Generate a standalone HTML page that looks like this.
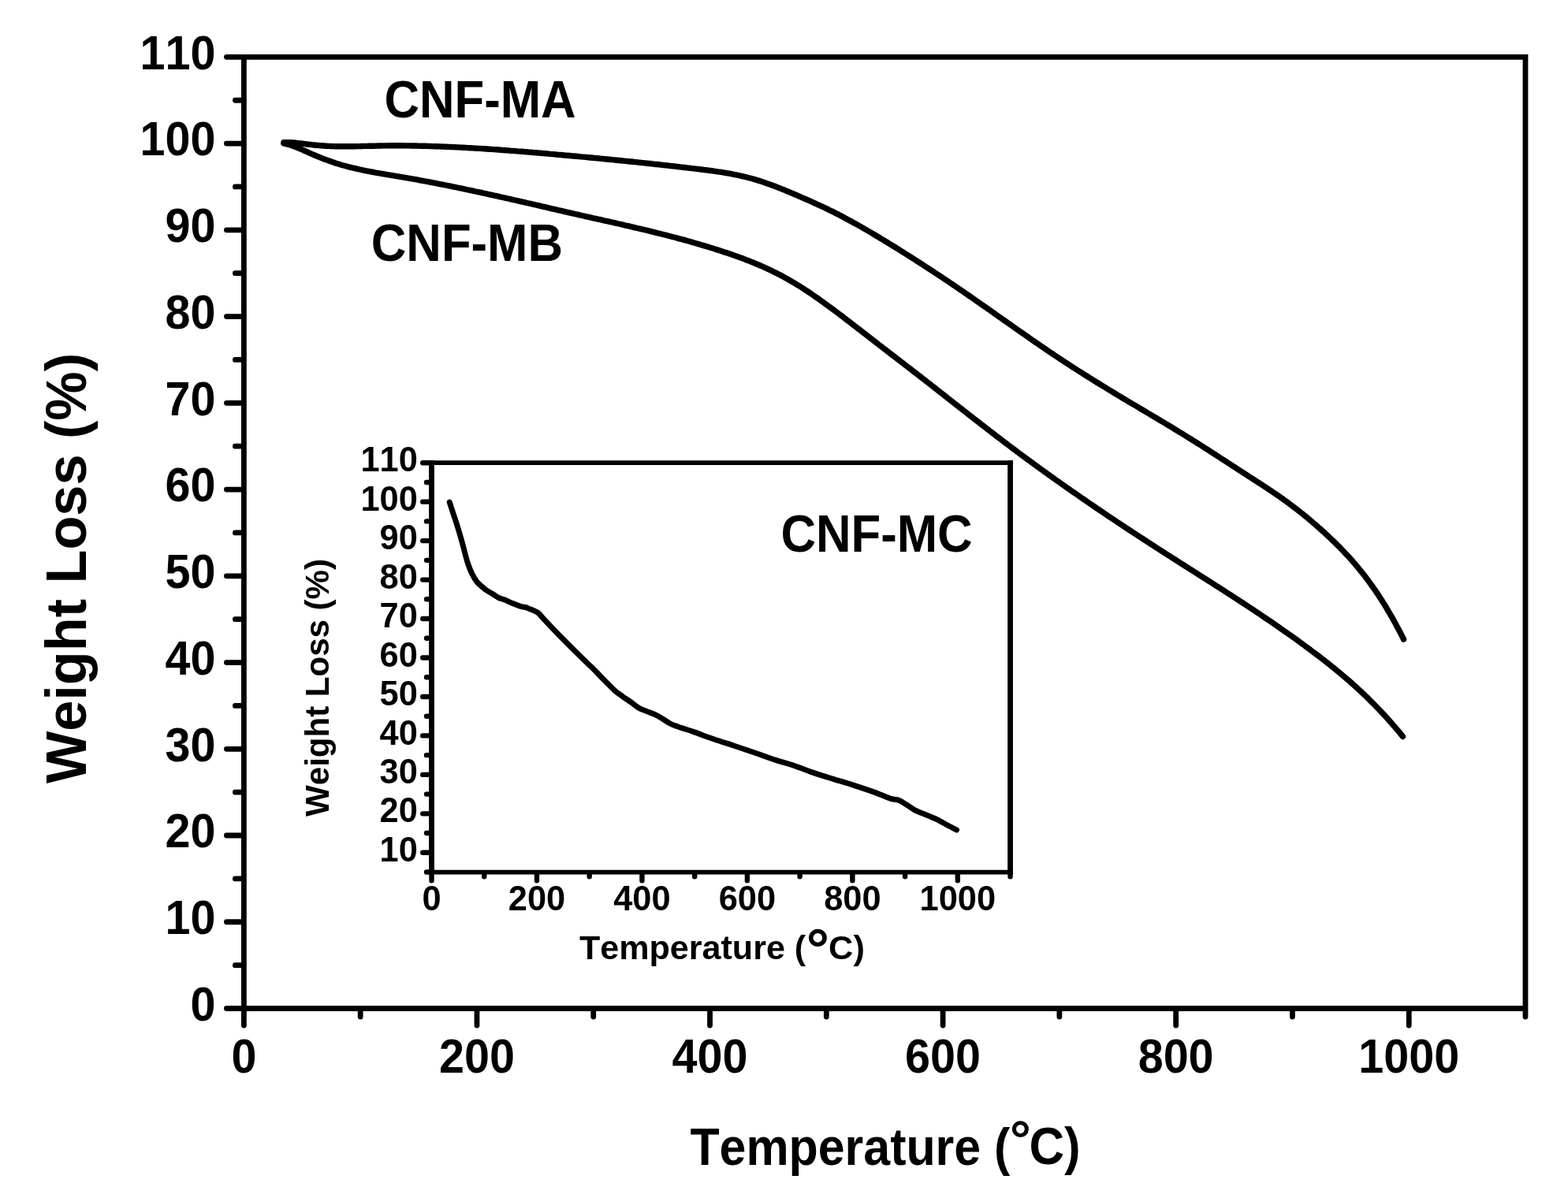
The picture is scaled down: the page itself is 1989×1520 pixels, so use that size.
<!DOCTYPE html>
<html><head><meta charset="utf-8"><title>TGA weight loss curves</title><style>html,body{margin:0;padding:0;background:#fff;overflow:hidden}svg{display:block}</style></head><body>
<svg width="1989" height="1520" viewBox="0 0 1989 1520"><rect width="1989" height="1520" fill="#fff"/>
<path d="M309.4 72.36V1279.5M309.4 1279.5H1934.98V72.36H309.4M306.9 1279.5H287.4M306.9 1224.63H298.4M306.9 1169.76H287.4M306.9 1114.89H298.4M306.9 1060.02H287.4M306.9 1005.15H298.4M306.9 950.28H287.4M306.9 895.41H298.4M306.9 840.54H287.4M306.9 785.67H298.4M306.9 730.8H287.4M306.9 675.93H298.4M306.9 621.06H287.4M306.9 566.19H298.4M306.9 511.32H287.4M306.9 456.45H298.4M306.9 401.58H287.4M306.9 346.71H298.4M306.9 291.84H287.4M306.9 236.97H298.4M306.9 182.1H287.4M306.9 127.23H298.4M306.9 72.36H287.4M309.4 1282V1301.1M457.18 1282V1290.1M604.96 1282V1301.1M752.74 1282V1290.1M900.52 1282V1301.1M1048.3 1282V1290.1M1196.08 1282V1301.1M1343.86 1282V1290.1M1491.64 1282V1301.1M1639.42 1282V1290.1M1787.2 1282V1301.1M1934.98 1282V1290.1" fill="none" stroke="#000" stroke-width="6.8" stroke-linecap="round"/>
<g font-family="'Liberation Sans', Arial, sans-serif" font-weight="bold" style="font-kerning:none"><text font-size="57.5" text-anchor="end" transform="translate(273.4 1294.8) scale(1 1.059)">0</text><text font-size="57.5" text-anchor="end" transform="translate(273.4 1185.06) scale(1 1.059)">10</text><text font-size="57.5" text-anchor="end" transform="translate(273.4 1075.32) scale(1 1.059)">20</text><text font-size="57.5" text-anchor="end" transform="translate(273.4 965.58) scale(1 1.059)">30</text><text font-size="57.5" text-anchor="end" transform="translate(273.4 855.84) scale(1 1.059)">40</text><text font-size="57.5" text-anchor="end" transform="translate(273.4 746.1) scale(1 1.059)">50</text><text font-size="57.5" text-anchor="end" transform="translate(273.4 636.36) scale(1 1.059)">60</text><text font-size="57.5" text-anchor="end" transform="translate(273.4 526.62) scale(1 1.059)">70</text><text font-size="57.5" text-anchor="end" transform="translate(273.4 416.88) scale(1 1.059)">80</text><text font-size="57.5" text-anchor="end" transform="translate(273.4 307.14) scale(1 1.059)">90</text><text font-size="57.5" text-anchor="end" transform="translate(273.4 197.4) scale(1 1.059)">100</text><text font-size="57.5" text-anchor="end" transform="translate(273.4 87.66) scale(1 1.059)">110</text><text font-size="57.5" text-anchor="middle" transform="translate(309.4 1360.7) scale(1 1.059)">0</text><text font-size="57.5" text-anchor="middle" transform="translate(604.96 1360.7) scale(1 1.059)">200</text><text font-size="57.5" text-anchor="middle" transform="translate(900.52 1360.7) scale(1 1.059)">400</text><text font-size="57.5" text-anchor="middle" transform="translate(1196.08 1360.7) scale(1 1.059)">600</text><text font-size="57.5" text-anchor="middle" transform="translate(1491.64 1360.7) scale(1 1.059)">800</text><text font-size="57.5" text-anchor="middle" transform="translate(1787.2 1360.7) scale(1 1.059)">1000</text><text font-size="60.89" transform="translate(875.4 1477.9) scale(1 1.096)">Temperature (</text><text font-size="67" transform="translate(1281.1 1468.6)">°</text><text font-size="61.75" transform="translate(1305.4 1477.2) scale(1 1.075)">C)</text><text font-size="70.25" transform="translate(109 994) rotate(-90) scale(1 1.035)">Weight Loss (%)</text><text font-size="61.7" transform="translate(487.4 148.7) scale(1 1.075)">CNF-MA</text><text font-size="61.7" transform="translate(470.8 331) scale(1 1.080)">CNF-MB</text><text font-size="61.7" transform="translate(990.4 699.7) scale(1 1.080)">CNF-MC</text></g>
<path d="M360.0 180.7 363.0 180.6 366.0 180.7 369.0 180.8 372.0 181.0 375.0 181.3 378.0 181.6 381.0 181.9 383.9 182.2 386.9 182.6 389.9 183.0 392.9 183.3 395.8 183.7 398.8 184.0 401.8 184.3 404.8 184.6 407.8 184.8 410.8 185.0 413.8 185.2 416.8 185.4 419.8 185.5 422.8 185.6 425.8 185.7 428.8 185.7 431.8 185.8 434.8 185.8 437.8 185.8 440.8 185.8 443.8 185.8 446.8 185.7 449.8 185.7 452.8 185.6 455.8 185.6 458.8 185.5 461.8 185.4 464.8 185.4 467.8 185.3 470.8 185.2 473.8 185.2 476.8 185.1 479.8 185.0 482.8 185.0 485.8 184.9 488.8 184.9 491.8 184.9 494.8 184.8 497.8 184.8 500.8 184.8 503.8 184.8 506.8 184.8 509.8 184.8 512.8 184.9 515.8 184.9 518.8 184.9 521.8 185.0 524.8 185.0 527.8 185.0 530.8 185.1 533.8 185.2 536.7 185.2 539.7 185.3 542.7 185.4 545.7 185.5 548.7 185.6 551.7 185.7 554.7 185.8 557.7 185.9 560.7 186.0 563.7 186.1 566.7 186.2 569.7 186.4 572.7 186.5 575.7 186.6 578.7 186.8 581.7 186.9 584.7 187.1 587.7 187.2 590.7 187.4 593.7 187.6 596.7 187.7 599.7 187.9 602.7 188.1 605.7 188.3 608.7 188.4 611.7 188.6 614.7 188.8 617.7 189.0 620.7 189.2 623.6 189.4 626.6 189.6 629.6 189.8 632.6 190.0 635.6 190.3 638.6 190.5 641.6 190.7 644.6 190.9 647.6 191.2 650.6 191.4 653.6 191.6 656.6 191.9 659.5 192.1 662.5 192.3 665.5 192.6 668.5 192.8 671.5 193.1 674.5 193.3 677.5 193.6 680.5 193.8 683.5 194.1 686.5 194.3 689.4 194.6 692.4 194.8 695.4 195.1 698.4 195.4 701.4 195.6 704.4 195.9 707.4 196.2 710.4 196.4 713.4 196.7 716.3 197.0 719.3 197.2 722.3 197.5 725.3 197.8 728.3 198.0 731.3 198.3 734.3 198.6 737.3 198.9 740.2 199.1 743.2 199.4 746.2 199.7 749.2 200.0 752.2 200.3 755.2 200.6 758.2 200.8 761.1 201.1 764.1 201.4 767.1 201.7 770.1 202.0 773.1 202.3 776.1 202.6 779.1 202.9 782.0 203.2 785.0 203.5 788.0 203.8 791.0 204.1 794.0 204.4 797.0 204.7 800.0 205.0 802.9 205.3 805.9 205.6 808.9 205.9 811.9 206.3 814.9 206.6 817.9 206.9 820.8 207.2 823.8 207.5 826.8 207.8 829.8 208.2 832.8 208.5 835.8 208.8 838.7 209.1 841.7 209.5 844.7 209.8 847.7 210.1 850.7 210.5 853.6 210.8 856.6 211.1 859.6 211.5 862.6 211.8 865.6 212.2 868.5 212.5 871.5 212.9 874.5 213.2 877.5 213.6 880.5 213.9 883.4 214.3 886.4 214.6 889.4 215.0 892.4 215.4 895.4 215.7 898.3 216.1 901.3 216.5 904.3 216.9 907.3 217.3 910.2 217.8 913.2 218.2 916.2 218.7 919.1 219.2 922.1 219.7 925.0 220.2 928.0 220.7 930.9 221.3 933.9 221.9 936.8 222.5 939.7 223.2 942.7 223.8 945.6 224.5 948.5 225.3 951.4 226.0 954.3 226.8 957.2 227.6 960.1 228.5 963.0 229.4 965.8 230.3 968.7 231.2 971.5 232.2 974.3 233.2 977.2 234.2 980.0 235.3 982.8 236.3 985.6 237.4 988.4 238.5 991.2 239.6 994.0 240.7 996.8 241.9 999.5 243.0 1002.3 244.2 1005.1 245.4 1007.8 246.5 1010.6 247.7 1013.3 248.9 1016.1 250.1 1018.9 251.3 1021.6 252.5 1024.4 253.7 1027.1 254.9 1029.8 256.1 1032.6 257.3 1035.3 258.6 1038.0 259.8 1040.8 261.1 1043.5 262.4 1046.2 263.6 1048.9 264.9 1051.6 266.3 1054.3 267.6 1057.0 268.9 1059.7 270.3 1062.4 271.6 1065.0 273.0 1067.7 274.4 1070.3 275.8 1073.0 277.2 1075.6 278.7 1078.3 280.1 1080.9 281.5 1083.5 283.0 1086.2 284.4 1088.8 285.9 1091.4 287.4 1094.0 288.9 1096.6 290.4 1099.2 291.9 1101.8 293.4 1104.4 294.9 1107.0 296.4 1109.6 298.0 1112.1 299.5 1114.7 301.0 1117.3 302.6 1119.9 304.1 1122.4 305.7 1125.0 307.2 1127.5 308.8 1130.1 310.4 1132.7 312.0 1135.2 313.5 1137.8 315.1 1140.3 316.7 1142.9 318.3 1145.4 319.9 1147.9 321.5 1150.5 323.1 1153.0 324.7 1155.6 326.3 1158.1 327.9 1160.6 329.5 1163.1 331.1 1165.7 332.8 1168.2 334.4 1170.7 336.0 1173.2 337.7 1175.7 339.3 1178.3 340.9 1180.8 342.6 1183.3 344.2 1185.8 345.9 1188.3 347.5 1190.8 349.2 1193.3 350.8 1195.8 352.5 1198.3 354.2 1200.8 355.8 1203.3 357.5 1205.8 359.2 1208.3 360.9 1210.7 362.5 1213.2 364.2 1215.7 365.9 1218.2 367.6 1220.7 369.3 1223.1 371.0 1225.6 372.7 1228.1 374.4 1230.6 376.1 1233.0 377.8 1235.5 379.5 1237.9 381.2 1240.4 383.0 1242.9 384.7 1245.3 386.4 1247.8 388.1 1250.2 389.8 1252.7 391.6 1255.2 393.3 1257.6 395.0 1260.1 396.7 1262.5 398.5 1265.0 400.2 1267.4 401.9 1269.9 403.6 1272.3 405.4 1274.8 407.1 1277.2 408.8 1279.7 410.6 1282.1 412.3 1284.6 414.0 1287.0 415.7 1289.5 417.5 1292.0 419.2 1294.4 420.9 1296.9 422.6 1299.3 424.3 1301.8 426.1 1304.2 427.8 1306.7 429.5 1309.2 431.2 1311.6 432.9 1314.1 434.6 1316.6 436.3 1319.0 438.0 1321.5 439.7 1324.0 441.4 1326.5 443.1 1328.9 444.8 1331.4 446.5 1333.9 448.1 1336.4 449.8 1338.9 451.5 1341.4 453.1 1343.9 454.8 1346.4 456.4 1348.9 458.1 1351.4 459.7 1353.9 461.4 1356.4 463.0 1358.9 464.6 1361.5 466.3 1364.0 467.9 1366.5 469.5 1369.0 471.1 1371.6 472.7 1374.1 474.3 1376.6 475.9 1379.2 477.5 1381.7 479.1 1384.3 480.7 1386.8 482.3 1389.3 483.9 1391.9 485.5 1394.4 487.0 1397.0 488.6 1399.6 490.2 1402.1 491.7 1404.7 493.3 1407.2 494.9 1409.8 496.4 1412.4 498.0 1414.9 499.5 1417.5 501.1 1420.1 502.6 1422.6 504.2 1425.2 505.7 1427.8 507.2 1430.4 508.8 1432.9 510.3 1435.5 511.9 1438.1 513.4 1440.7 514.9 1443.3 516.4 1445.8 518.0 1448.4 519.5 1451.0 521.0 1453.6 522.6 1456.2 524.1 1458.7 525.6 1461.3 527.2 1463.9 528.7 1466.5 530.2 1469.0 531.8 1471.6 533.3 1474.2 534.9 1476.8 536.4 1479.3 537.9 1481.9 539.5 1484.5 541.0 1487.1 542.6 1489.6 544.2 1492.2 545.7 1494.7 547.3 1497.3 548.9 1499.9 550.4 1502.4 552.0 1505.0 553.6 1507.5 555.2 1510.1 556.7 1512.6 558.3 1515.1 559.9 1517.7 561.5 1520.2 563.1 1522.8 564.7 1525.3 566.3 1527.8 568.0 1530.4 569.6 1532.9 571.2 1535.4 572.8 1537.9 574.4 1540.5 576.1 1543.0 577.7 1545.5 579.3 1548.0 581.0 1550.5 582.6 1553.0 584.2 1555.6 585.9 1558.1 587.5 1560.6 589.1 1563.1 590.8 1565.6 592.4 1568.1 594.0 1570.6 595.7 1573.2 597.3 1575.7 598.9 1578.2 600.6 1580.7 602.2 1583.2 603.8 1585.8 605.5 1588.3 607.1 1590.8 608.7 1593.3 610.3 1595.8 612.0 1598.4 613.6 1600.9 615.2 1603.4 616.9 1605.9 618.5 1608.4 620.2 1610.9 621.8 1613.4 623.5 1615.9 625.2 1618.4 626.9 1620.8 628.6 1623.3 630.3 1625.8 632.0 1628.2 633.8 1630.7 635.5 1633.1 637.3 1635.5 639.1 1637.9 640.9 1640.3 642.7 1642.7 644.5 1645.1 646.4 1647.5 648.2 1649.8 650.1 1652.2 651.9 1654.5 653.8 1656.8 655.7 1659.2 657.7 1661.5 659.6 1663.8 661.5 1666.0 663.5 1668.3 665.4 1670.6 667.4 1672.8 669.4 1675.1 671.4 1677.3 673.4 1679.6 675.4 1681.8 677.5 1684.0 679.5 1686.2 681.6 1688.3 683.6 1690.5 685.7 1692.7 687.8 1694.8 689.9 1697.0 692.1 1699.1 694.2 1701.2 696.3 1703.3 698.5 1705.4 700.7 1707.4 702.9 1709.5 705.1 1711.5 707.3 1713.5 709.5 1715.5 711.8 1717.5 714.1 1719.5 716.3 1721.4 718.6 1723.3 721.0 1725.2 723.3 1727.1 725.6 1729.0 728.0 1730.9 730.4 1732.7 732.8 1734.5 735.2 1736.3 737.6 1738.1 740.1 1739.8 742.5 1741.6 745.0 1743.3 747.4 1745.0 749.9 1746.7 752.4 1748.4 754.9 1750.0 757.5 1751.7 760.0 1753.3 762.5 1754.9 765.1 1756.5 767.6 1758.1 770.2 1759.6 772.8 1761.1 775.4 1762.7 778.0 1764.2 780.6 1765.7 783.2 1767.2 785.8 1768.6 788.5 1770.1 791.1 1771.5 793.8 1772.9 796.4 1774.4 799.1 1775.8 801.8 1777.1 804.4 1778.5 807.1 1779.9 809.8 1780.5 811.1" fill="none" stroke="#000" stroke-width="7.4" stroke-linecap="round" stroke-linejoin="round"/>
<path d="M360.0 181.9 362.9 182.6 365.9 183.3 368.8 184.2 371.6 185.2 374.4 186.3 377.2 187.4 380.0 188.5 382.8 189.7 385.5 191.0 388.2 192.2 391.0 193.4 393.7 194.6 396.5 195.8 399.2 197.0 402.0 198.2 404.8 199.3 407.5 200.4 410.3 201.5 413.1 202.6 415.9 203.6 418.7 204.6 421.6 205.6 424.4 206.6 427.3 207.5 430.1 208.3 433.0 209.2 435.9 210.0 438.8 210.8 441.7 211.6 444.6 212.3 447.5 213.0 450.4 213.7 453.3 214.4 456.2 215.0 459.2 215.7 462.1 216.3 465.1 216.9 468.0 217.4 470.9 218.0 473.9 218.5 476.8 219.1 479.8 219.6 482.8 220.1 485.7 220.6 488.7 221.1 491.6 221.6 494.6 222.1 497.5 222.6 500.5 223.1 503.5 223.6 506.4 224.1 509.4 224.6 512.3 225.1 515.3 225.6 518.2 226.1 521.2 226.6 524.2 227.2 527.1 227.7 530.1 228.2 533.0 228.8 536.0 229.3 538.9 229.9 541.9 230.4 544.8 231.0 547.8 231.5 550.7 232.1 553.7 232.7 556.6 233.3 559.5 233.8 562.5 234.4 565.4 235.0 568.4 235.6 571.3 236.2 574.2 236.8 577.2 237.4 580.1 238.0 583.1 238.6 586.0 239.2 588.9 239.8 591.9 240.5 594.8 241.1 597.7 241.7 600.7 242.3 603.6 243.0 606.5 243.6 609.5 244.2 612.4 244.9 615.3 245.5 618.3 246.2 621.2 246.8 624.1 247.4 627.1 248.1 630.0 248.7 632.9 249.4 635.8 250.1 638.8 250.7 641.7 251.4 644.6 252.0 647.5 252.7 650.5 253.4 653.4 254.0 656.3 254.7 659.2 255.4 662.2 256.0 665.1 256.7 668.0 257.4 670.9 258.0 673.9 258.7 676.8 259.4 679.7 260.0 682.6 260.7 685.6 261.4 688.5 262.1 691.4 262.7 694.3 263.4 697.3 264.1 700.2 264.8 703.1 265.4 706.0 266.1 709.0 266.8 711.9 267.4 714.8 268.1 717.7 268.8 720.6 269.5 723.6 270.1 726.5 270.8 729.4 271.5 732.3 272.1 735.3 272.8 738.2 273.5 741.1 274.1 744.0 274.8 747.0 275.4 749.9 276.1 752.8 276.8 755.8 277.4 758.7 278.1 761.6 278.7 764.5 279.4 767.5 280.1 770.4 280.7 773.3 281.4 776.2 282.0 779.2 282.7 782.1 283.4 785.0 284.0 787.9 284.7 790.9 285.4 793.8 286.1 796.7 286.7 799.6 287.4 802.6 288.1 805.5 288.8 808.4 289.5 811.3 290.1 814.2 290.8 817.2 291.5 820.1 292.2 823.0 292.9 825.9 293.6 828.8 294.4 831.7 295.1 834.6 295.8 837.6 296.5 840.5 297.3 843.4 298.0 846.3 298.7 849.2 299.5 852.1 300.3 855.0 301.0 857.9 301.8 860.8 302.6 863.7 303.3 866.6 304.1 869.5 304.9 872.4 305.7 875.3 306.5 878.2 307.4 881.0 308.2 883.9 309.0 886.8 309.9 889.7 310.7 892.6 311.6 895.4 312.4 898.3 313.3 901.2 314.2 904.0 315.1 906.9 316.0 909.8 316.9 912.6 317.8 915.5 318.7 918.3 319.7 921.2 320.6 924.0 321.6 926.9 322.6 929.7 323.5 932.5 324.5 935.4 325.5 938.2 326.6 941.0 327.6 943.8 328.6 946.6 329.7 949.4 330.8 952.2 331.9 955.0 333.0 957.8 334.2 960.6 335.3 963.3 336.5 966.1 337.7 968.8 338.9 971.6 340.1 974.3 341.4 977.0 342.7 979.7 344.0 982.4 345.3 985.1 346.6 987.8 348.0 990.5 349.4 993.1 350.8 995.7 352.2 998.4 353.7 1001.0 355.2 1003.6 356.7 1006.2 358.2 1008.8 359.8 1011.3 361.3 1013.9 362.9 1016.4 364.5 1019.0 366.2 1021.5 367.8 1024.0 369.4 1026.5 371.1 1029.0 372.8 1031.5 374.5 1033.9 376.2 1036.4 377.9 1038.9 379.6 1041.3 381.4 1043.7 383.1 1046.2 384.9 1048.6 386.7 1051.0 388.4 1053.5 390.2 1055.9 392.0 1058.3 393.8 1060.7 395.6 1063.1 397.4 1065.5 399.2 1067.9 401.0 1070.3 402.8 1072.6 404.7 1075.0 406.5 1077.4 408.3 1079.8 410.1 1082.2 412.0 1084.5 413.8 1086.9 415.6 1089.3 417.5 1091.7 419.3 1094.0 421.2 1096.4 423.0 1098.8 424.8 1101.1 426.7 1103.5 428.5 1105.9 430.4 1108.2 432.2 1110.6 434.0 1113.0 435.9 1115.4 437.7 1117.7 439.5 1120.1 441.4 1122.5 443.2 1124.9 445.0 1127.2 446.9 1129.6 448.7 1132.0 450.5 1134.4 452.4 1136.7 454.2 1139.1 456.0 1141.5 457.8 1143.9 459.7 1146.3 461.5 1148.6 463.3 1151.0 465.2 1153.4 467.0 1155.8 468.8 1158.1 470.7 1160.5 472.5 1162.9 474.3 1165.3 476.2 1167.6 478.0 1170.0 479.9 1172.4 481.7 1174.7 483.5 1177.1 485.4 1179.5 487.2 1181.8 489.1 1184.2 490.9 1186.5 492.8 1188.9 494.6 1191.3 496.5 1193.6 498.3 1196.0 500.2 1198.3 502.0 1200.7 503.9 1203.1 505.8 1205.4 507.6 1207.8 509.5 1210.1 511.3 1212.5 513.2 1214.9 515.0 1217.2 516.9 1219.6 518.7 1221.9 520.6 1224.3 522.4 1226.7 524.3 1229.0 526.1 1231.4 528.0 1233.8 529.8 1236.1 531.7 1238.5 533.5 1240.9 535.3 1243.2 537.2 1245.6 539.0 1248.0 540.9 1250.3 542.7 1252.7 544.5 1255.1 546.4 1257.5 548.2 1259.8 550.0 1262.2 551.9 1264.6 553.7 1267.0 555.5 1269.4 557.3 1271.7 559.1 1274.1 561.0 1276.5 562.8 1278.9 564.6 1281.3 566.4 1283.7 568.2 1286.1 570.0 1288.5 571.8 1290.9 573.6 1293.3 575.4 1295.7 577.2 1298.1 578.9 1300.5 580.7 1302.9 582.5 1305.4 584.3 1307.8 586.0 1310.2 587.8 1312.6 589.6 1315.0 591.4 1317.5 593.1 1319.9 594.9 1322.3 596.6 1324.8 598.4 1327.2 600.1 1329.6 601.9 1332.1 603.6 1334.5 605.4 1337.0 607.1 1339.4 608.9 1341.8 610.6 1344.3 612.3 1346.7 614.1 1349.2 615.8 1351.6 617.5 1354.1 619.2 1356.6 620.9 1359.0 622.7 1361.5 624.4 1363.9 626.1 1366.4 627.8 1368.9 629.5 1371.3 631.2 1373.8 632.9 1376.3 634.6 1378.7 636.3 1381.2 638.0 1383.7 639.7 1386.2 641.4 1388.7 643.1 1391.1 644.8 1393.6 646.4 1396.1 648.1 1398.6 649.8 1401.1 651.5 1403.6 653.2 1406.0 654.8 1408.5 656.5 1411.0 658.2 1413.5 659.8 1416.0 661.5 1418.5 663.2 1421.0 664.8 1423.5 666.5 1426.0 668.1 1428.5 669.8 1431.0 671.4 1433.5 673.1 1436.0 674.7 1438.5 676.4 1441.1 678.0 1443.6 679.7 1446.1 681.3 1448.6 682.9 1451.1 684.6 1453.6 686.2 1456.1 687.8 1458.6 689.5 1461.2 691.1 1463.7 692.7 1466.2 694.4 1468.7 696.0 1471.2 697.6 1473.8 699.2 1476.3 700.9 1478.8 702.5 1481.3 704.1 1483.9 705.7 1486.4 707.3 1488.9 708.9 1491.5 710.5 1494.0 712.2 1496.5 713.8 1499.0 715.4 1501.6 717.0 1504.1 718.6 1506.6 720.2 1509.2 721.8 1511.7 723.4 1514.2 725.0 1516.8 726.6 1519.3 728.3 1521.8 729.9 1524.4 731.5 1526.9 733.1 1529.4 734.7 1532.0 736.3 1534.5 737.9 1537.0 739.5 1539.5 741.1 1542.1 742.8 1544.6 744.4 1547.1 746.0 1549.7 747.6 1552.2 749.2 1554.7 750.9 1557.2 752.5 1559.7 754.1 1562.3 755.7 1564.8 757.4 1567.3 759.0 1569.8 760.6 1572.3 762.3 1574.8 763.9 1577.4 765.6 1579.9 767.2 1582.4 768.9 1584.9 770.5 1587.4 772.2 1589.9 773.8 1592.4 775.5 1594.9 777.2 1597.4 778.8 1599.9 780.5 1602.3 782.2 1604.8 783.9 1607.3 785.6 1609.8 787.2 1612.3 788.9 1614.8 790.6 1617.2 792.3 1619.7 794.0 1622.2 795.8 1624.6 797.5 1627.1 799.2 1629.5 800.9 1632.0 802.6 1634.5 804.4 1636.9 806.1 1639.3 807.8 1641.8 809.6 1644.2 811.3 1646.7 813.1 1649.1 814.9 1651.5 816.6 1653.9 818.4 1656.4 820.2 1658.8 822.0 1661.2 823.8 1663.6 825.6 1666.0 827.4 1668.4 829.2 1670.8 831.0 1673.2 832.8 1675.6 834.6 1677.9 836.5 1680.3 838.3 1682.7 840.2 1685.0 842.0 1687.4 843.9 1689.7 845.8 1692.1 847.7 1694.4 849.6 1696.7 851.5 1699.0 853.4 1701.3 855.3 1703.6 857.3 1705.9 859.2 1708.2 861.2 1710.5 863.1 1712.7 865.1 1715.0 867.1 1717.2 869.1 1719.5 871.1 1721.7 873.1 1723.9 875.2 1726.1 877.2 1728.3 879.3 1730.5 881.4 1732.6 883.4 1734.8 885.5 1736.9 887.6 1739.1 889.8 1741.2 891.9 1743.3 894.0 1745.4 896.2 1747.5 898.3 1749.6 900.5 1751.7 902.7 1753.7 904.9 1755.8 907.1 1757.8 909.3 1759.8 911.5 1761.8 913.8 1763.8 916.0 1765.8 918.3 1767.8 920.6 1769.8 922.8 1771.7 925.1 1773.7 927.4 1775.6 929.7 1777.5 932.1 1779.4 934.4 1779.5 934.5" fill="none" stroke="#000" stroke-width="7.4" stroke-linecap="round" stroke-linejoin="round"/>
<path d="M544.1 587.2H1284.93M544.1 1106.53H1284.93" fill="none" stroke="#000" stroke-width="5.8"/>
<path d="M547.5 584.3V1109.43M1281.53 584.3V1109.43" fill="none" stroke="#000" stroke-width="6.8"/>
<path d="M545 1106.53H541M545 1081.8H536.25M545 1057.07H541M545 1032.34H536.25M545 1007.61H541M545 982.88H536.25M545 958.15H541M545 933.42H536.25M545 908.69H541M545 883.96H536.25M545 859.23H541M545 834.5H536.25M545 809.77H541M545 785.04H536.25M545 760.31H541M545 735.58H536.25M545 710.85H541M545 686.12H536.25M545 661.39H541M545 636.66H536.25M545 611.93H541M545 587.2H536.25M547.5 1108.53V1117.28M614.23 1108.53V1112.28M680.96 1108.53V1117.28M747.69 1108.53V1112.28M814.42 1108.53V1117.28M881.15 1108.53V1112.28M947.88 1108.53V1117.28M1014.61 1108.53V1112.28M1081.34 1108.53V1117.28M1148.07 1108.53V1112.28M1214.8 1108.53V1117.28M1281.53 1108.53V1112.28" fill="none" stroke="#000" stroke-width="6.4" stroke-linecap="round"/>
<g font-family="'Liberation Sans', Arial, sans-serif" font-weight="bold" style="font-kerning:none"><text font-size="43.4" text-anchor="end" transform="translate(529.8 1092.9) scale(1 1.010)">10</text><text font-size="43.4" text-anchor="end" transform="translate(529.8 1043.44) scale(1 1.010)">20</text><text font-size="43.4" text-anchor="end" transform="translate(529.8 993.98) scale(1 1.010)">30</text><text font-size="43.4" text-anchor="end" transform="translate(529.8 944.52) scale(1 1.010)">40</text><text font-size="43.4" text-anchor="end" transform="translate(529.8 895.06) scale(1 1.010)">50</text><text font-size="43.4" text-anchor="end" transform="translate(529.8 845.6) scale(1 1.010)">60</text><text font-size="43.4" text-anchor="end" transform="translate(529.8 796.14) scale(1 1.010)">70</text><text font-size="43.4" text-anchor="end" transform="translate(529.8 746.68) scale(1 1.010)">80</text><text font-size="43.4" text-anchor="end" transform="translate(529.8 697.22) scale(1 1.010)">90</text><text font-size="43.4" text-anchor="end" transform="translate(529.8 647.76) scale(1 1.010)">100</text><text font-size="43.4" text-anchor="end" transform="translate(529.8 598.3) scale(1 1.010)">110</text><text font-size="43.4" text-anchor="middle" transform="translate(547.5 1154.8) scale(1 1.010)">0</text><text font-size="43.4" text-anchor="middle" transform="translate(680.96 1154.8) scale(1 1.010)">200</text><text font-size="43.4" text-anchor="middle" transform="translate(814.42 1154.8) scale(1 1.010)">400</text><text font-size="43.4" text-anchor="middle" transform="translate(947.88 1154.8) scale(1 1.010)">600</text><text font-size="43.4" text-anchor="middle" transform="translate(1081.34 1154.8) scale(1 1.010)">800</text><text font-size="43.4" text-anchor="middle" transform="translate(1214.8 1154.8) scale(1 1.010)">1000</text><text font-size="43.1" transform="translate(734.9 1217.1) scale(1 1.005)">Temperature (</text><text font-size="73" transform="translate(1022.8 1228.8)">°</text><text font-size="43.4" transform="translate(1051.1 1216.7) scale(1 0.980)">C)</text><text font-size="42.03" transform="translate(416.9 1035.9) rotate(-90) scale(1 1.030)">Weight Loss (%)</text></g>
<path d="M570.2 637.2C570.9 639.3 572.5 644.3 574.3 649.7C576.1 655.1 578.8 662.9 580.8 669.5C582.8 676.1 584.7 682.6 586.5 689.2C588.3 695.8 590.2 703.8 591.7 708.9C593.2 714.0 594.1 716.7 595.3 720.0C596.5 723.3 597.5 725.6 599.1 728.7C600.7 731.8 602.4 735.3 605.1 738.4C607.8 741.5 611.8 744.8 615.1 747.4C618.5 750.0 622.3 751.9 625.2 753.7C628.1 755.6 630.2 757.3 632.7 758.5C635.2 759.7 637.4 759.8 640.3 761.0C643.2 762.2 646.9 764.1 650.3 765.5C653.6 766.9 657.5 768.4 660.4 769.3C663.3 770.2 665.8 770.3 667.9 770.9C670.0 771.5 671.3 772.4 673.0 773.1C674.7 773.8 676.3 774.3 678.0 775.1C679.7 775.9 681.0 776.0 683.0 777.8C685.0 779.6 685.5 780.9 690.0 785.7C694.5 790.5 703.3 799.8 710.0 806.6C716.7 813.4 723.3 820.1 730.0 826.7C736.7 833.3 743.3 839.5 750.0 846.1C756.7 852.7 765.0 861.5 770.0 866.5C775.0 871.5 776.7 873.4 780.0 876.3C783.3 879.2 786.7 881.4 790.0 883.8C793.3 886.2 796.7 888.2 800.0 890.6C803.3 893.0 806.7 895.9 810.0 897.9C813.3 899.9 816.7 901.0 820.0 902.4C823.3 903.8 826.7 904.7 830.0 906.2C833.3 907.8 836.7 909.7 840.0 911.7C843.3 913.7 846.7 916.3 850.0 918.0C853.3 919.7 856.7 920.8 860.0 922.0C863.3 923.2 866.7 924.2 870.0 925.3C873.3 926.4 874.0 926.5 880.0 928.6C886.0 930.7 897.3 935.0 906.0 938.0C914.7 941.0 923.3 943.6 932.0 946.5C940.7 949.4 949.3 952.3 958.0 955.3C966.7 958.3 975.7 961.7 984.0 964.4C992.3 967.1 1000.2 969.1 1008.0 971.7C1015.8 974.3 1022.8 977.3 1031.0 980.1C1039.2 982.9 1048.3 985.7 1057.0 988.4C1065.7 991.1 1074.3 993.5 1083.0 996.3C1091.7 999.1 1101.2 1002.2 1109.0 1005.1C1116.8 1008.0 1124.8 1011.7 1130.0 1013.4C1135.2 1015.1 1136.7 1014.0 1140.0 1015.3C1143.3 1016.6 1146.7 1019.1 1150.0 1021.1C1153.3 1023.1 1156.7 1025.8 1160.0 1027.6C1163.3 1029.4 1166.7 1030.5 1170.0 1031.9C1173.3 1033.3 1176.7 1034.7 1180.0 1036.1C1183.3 1037.5 1186.7 1038.8 1190.0 1040.4C1193.3 1042.1 1196.1 1043.9 1200.0 1046.0C1203.9 1048.1 1211.2 1051.8 1213.5 1053.0" fill="none" stroke="#000" stroke-width="7" stroke-linecap="round" stroke-linejoin="round"/>
</svg>
</body></html>
